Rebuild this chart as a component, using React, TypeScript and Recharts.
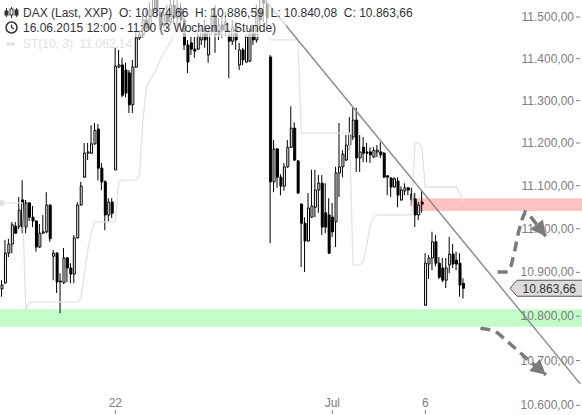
import {
  ComposedChart,
  Bar,
  Line,
  XAxis,
  YAxis,
  Cell,
  ReferenceArea,
  ReferenceLine,
} from "recharts";

// hourly DAX bars, 16.06.2015 12:00 .. 07.07.2015 11:00
const openP = [
  10862, 10876, 10944, 10965, 11006, 11006, 11067, 11004, 11060, 11027,
  11018, 10958, 10990, 10993, 11055, 10937, 10944, 10880, 10876, 10933,
  10910, 10896, 10979, 11055, 11120, 11176, 11176, 11198, 11233, 11141,
  11109, 11032, 11062, 11137, 11380, 11385, 11373, 11366, 11290, 11380,
  11450, 11457, 11493, 11474, 11517, 11553, 11512, 11481, 11505, 11488,
  11529, 11498, 11522, 11493, 11433, 11438, 11423, 11423, 11445, 11469,
  11409, 11464, 11505, 11457, 11481, 11469, 11454, 11442, 11474, 11385,
  11421, 11392, 11394, 11462, 11445, 11517, 11561, 11534, 11404, 11109,
  11186, 11120, 11099, 11144, 11190, 11235, 11158, 11057, 11013, 10972,
  11027, 11050, 11090, 11106, 11037, 11032, 11027, 11016, 11130, 11144,
  11160, 11195, 11214, 11254, 11165, 11190, 11179, 11179, 11167, 11179,
  11179, 11176, 11123, 11118, 11097, 11111, 11067, 11088, 11095, 11081,
  11069, 11032, 11062, 10825, 10919, 10933, 10970, 10921, 10910, 10882,
  10917, 10942, 10928, 10921, 10874.66,
];
const highP = [
  10882, 10974, 10977, 11016, 11016, 11074, 11113, 11067, 11062, 11053,
  11020, 11011, 11032, 11085, 11057, 10951, 10946, 10898, 10956, 10935,
  10921, 10986, 11062, 11109, 11200, 11200, 11242, 11247, 11245, 11153,
  11113, 11071, 11071, 11426, 11421, 11402, 11390, 11373, 11397, 11464,
  11469, 11512, 11517, 11536, 11578, 11566, 11522, 11522, 11529, 11553,
  11541, 11541, 11536, 11505, 11445, 11452, 11452, 11462, 11481, 11493,
  11474, 11522, 11529, 11498, 11505, 11512, 11469, 11493, 11488, 11438,
  11426, 11457, 11474, 11481, 11529, 11541, 11578, 11546, 11409, 11207,
  11188, 11127, 11153, 11207, 11287, 11249, 11160, 11059, 11027, 11083,
  11137, 11137, 11125, 11125, 11106, 11071, 11060, 11144, 11247, 11183,
  11219, 11261, 11283, 11283, 11219, 11214, 11200, 11190, 11190, 11195,
  11202, 11179, 11125, 11120, 11120, 11120, 11099, 11106, 11097, 11095,
  11083, 11062, 11090, 10944, 10940, 10993, 10986, 10935, 10933, 10933,
  10981, 10965, 10947, 10944, 10886.59,
];
const lowP = [
  10844, 10873, 10935, 10944, 10988, 10999, 10990, 10990, 11018, 11004,
  10947, 10956, 10988, 10990, 10970, 10882, 10853, 10807, 10874, 10878,
  10875, 10875, 10978, 11054, 11118, 11160, 11175, 11196, 11113, 11090,
  10997, 11016, 11025, 11136, 11378, 11308, 11308, 11271, 11271, 11378,
  11445, 11450, 11464, 11469, 11507, 11498, 11469, 11474, 11469, 11481,
  11483, 11474, 11469, 11421, 11366, 11409, 11402, 11421, 11433, 11426,
  11390, 11457, 11414, 11445, 11450, 11454, 11354, 11433, 11421, 11373,
  11385, 11390, 11392, 11433, 11438, 11469, 11488, 11481, 10967, 11085,
  11095, 11078, 11088, 11142, 11188, 11158, 11081, 10912, 10901, 10970,
  11025, 11027, 11037, 10986, 10990, 10942, 10981, 10958, 11074, 11120,
  11158, 11183, 11207, 11132, 11132, 11155, 11155, 11153, 11165, 11167,
  11165, 11118, 11078, 11074, 11095, 11050, 11065, 11078, 11078, 11053,
  11004, 11020, 11037, 10823, 10885, 10905, 10914, 10885, 10878, 10864,
  10898, 10910, 10905, 10844, 10840.08,
];
const closeP = [
  10871, 10944, 10965, 11009, 10990, 11043, 11004, 11060, 11027, 11018,
  10958, 10990, 10993, 11055, 10977, 10944, 10878, 10878, 10933, 10910,
  10896, 10979, 11055, 11099, 11176, 11179, 11198, 11230, 11141, 11109,
  11032, 11062, 11036, 11382, 11385, 11313, 11318, 11290, 11380, 11450,
  11457, 11493, 11474, 11517, 11553, 11512, 11481, 11505, 11488, 11529,
  11498, 11522, 11493, 11433, 11392, 11423, 11418, 11454, 11469, 11445,
  11464, 11505, 11457, 11481, 11469, 11488, 11442, 11474, 11445, 11421,
  11397, 11452, 11462, 11445, 11517, 11493, 11534, 11498, 11109, 11186,
  11120, 11099, 11144, 11190, 11235, 11160, 11083, 11013, 10972, 11048,
  11053, 11090, 11106, 11004, 11004, 10944, 10993, 11130, 11144, 11174,
  11195, 11219, 11254, 11165, 11179, 11176, 11176, 11172, 11183, 11183,
  11172, 11120, 11120, 11097, 11116, 11078, 11090, 11095, 11090, 11067,
  11032, 11055, 11057, 10921, 10933, 10970, 10921, 10889, 10882, 10910,
  10942, 10919, 10919, 10871, 10863.66,
];

// SuperTrend ST(10, 3)
const superTrend = [
  11060, 11060, 11060, 11060, 11060, 11060, 11060, 10814, 10832, 10832,
  10832, 10832, 10832, 10832, 10832, 10832, 10832, 10832, 10832, 10832,
  10832, 10832, 10832, 10841, 10894, 10951, 10993, 11016, 11016, 11016,
  11016, 11016, 11016, 11016, 11109, 11113, 11113, 11113, 11113, 11113,
  11125, 11254, 11330, 11349, 11361, 11378, 11397, 11414, 11426, 11440,
  11462, 11462, 11462, 11462, 11462, 11462, 11462, 11462, 11462, 11462,
  11462, 11462, 11462, 11462, 11462, 11462, 11462, 11462, 11462, 11462,
  11462, 11462, 11462, 11462, 11462, 11462, 11462, 11462, 11445, 11445,
  11445, 11445, 11445, 11445, 11445, 11445, 11445, 11223, 11223, 11223,
  11223, 11223, 11223, 11223, 11223, 11223, 11223, 11223, 11223, 11223,
  11223, 11223, 10917, 10917, 10917, 10924, 10963, 11009, 11027, 11032,
  11032, 11032, 11032, 11032, 11032, 11032, 11032, 11032, 11032, 11032,
  11200, 11200, 11190, 11097, 11097, 11097, 11097, 11097, 11097, 11097,
  11097, 11097, 11097, 11083, 11062.14,
];

// drawn annotations
const trendIdx = [76, 168];
const trendVal = [11545.9, 10647.7];
const upArrowIdx = [144, 147, 148, 149, 150, 151, 152, 153, 158];
const upArrowVal = [10901, 10901, 10917, 10951, 10990, 11020, 11039, 11034, 10983];
const downArrowIdx = [139, 142, 144, 146, 148, 153, 158];
const downArrowVal = [10773, 10769, 10762, 10749, 10735, 10701, 10668];
const resistZone = [11041, 11071];
const supportZone = [10776, 10816];
const resistStart = 120;
const lastPrice = 10863.66;

const yTicks = [10600, 10700, 10800, 10900, 11000, 11100, 11200, 11300, 11400, 11500];
const xTickIdx = [33, 96, 123];
const xTickLabels = ["22", "Jul", "6"];

const SLOTS = 169;
const FONT = '"Liberation Sans", Arial, sans-serif';

const pick = (idx: number[], vals: number[], i: number) => {
  const k = idx.indexOf(i);
  return k < 0 ? null : vals[k];
};

const rows = Array.from({ length: SLOTS }, (_, i) => ({
  i,
  o: openP[i] ?? null,
  h: highP[i] ?? null,
  l: lowP[i] ?? null,
  c: closeP[i] ?? null,
  st: superTrend[i] ?? null,
  trend: pick(trendIdx, trendVal, i),
  up: pick(upArrowIdx, upArrowVal, i),
  down: pick(downArrowIdx, downArrowVal, i),
}));

const de = (v: number, dec = 2) => {
  const [a, b] = v.toFixed(dec).split(".");
  return a.replace(/\B(?=(\d{3})+(?!\d))/g, ".") + "," + b;
};

const YTick = (props: any) => {
  const { x, y, payload } = props;
  return (
    <g>
      <text x={x - 8} y={y + 4} textAnchor="end" fill="#7d7d7d" fontSize={12} fontFamily={FONT}>
        {de(payload.value)}
      </text>
      <line x1={x - 6} x2={x - 2} y1={y} y2={y} stroke="#7d7d7d" />
    </g>
  );
};

// bottom edge of the plot, where the tick marks hang
const XTick = (props: any) => {
  const { x, payload, viewBox } = props;
  const k = xTickIdx.indexOf(payload.value);
  if (k < 0) return <g />;
  const base = viewBox?.y ?? 410;
  return (
    <g>
      <text x={x} y={base - 3} textAnchor="middle" fill="#7d7d7d" fontSize={12} fontFamily={FONT}>
        {xTickLabels[k]}
      </text>
      <line x1={x} x2={x} y1={base} y2={base + 4} stroke="#7d7d7d" />
    </g>
  );
};

const arrowHead = (tip: number, angle: number) => (p: any) => {
  const { cx, cy, payload, index } = p;
  if (payload?.i !== tip || cx == null || cy == null) return <g key={"h" + index} />;
  const a = (angle * Math.PI) / 180;
  const len = 15;
  const half = 8;
  const bx = cx - len * Math.cos(a);
  const by = cy - len * Math.sin(a);
  const nx = -Math.sin(a) * half;
  const ny = Math.cos(a) * half;
  return (
    <polygon
      key={"h" + index}
      points={`${cx},${cy} ${bx + nx},${by + ny} ${bx - nx},${by - ny}`}
      fill="#7b7b7b"
    />
  );
};

const PriceTag = (props: any) => {
  const { viewBox } = props;
  const right = viewBox.x + viewBox.width;
  const y = viewBox.y;
  return (
    <g>
      <polygon
        points={`${right - 72},${y} ${right - 65},${y - 8} ${right + 1},${y - 8} ${right + 1},${y + 8} ${right - 65},${y + 8}`}
        fill="#dcdcdc"
        stroke="#555"
      />
      <text x={right - 6} y={y + 4.5} textAnchor="end" fill="#333" fontSize={12} fontFamily={FONT}>
        {de(lastPrice)}
      </text>
    </g>
  );
};

const Header = () => (
  <svg width={582} height={52} style={{ position: "absolute", left: 0, top: 0, pointerEvents: "none" }}>
    <rect x={0} y={0} width={416} height={21} fill="#fff" fillOpacity={0.65} />
    <rect x={0} y={21} width={286} height={16} fill="#fff" fillOpacity={0.65} />
    <g stroke="#333" strokeWidth={1}>
      <line x1={6.5} x2={6.5} y1={8} y2={17} />
      <rect x={5} y={11} width={3} height={4} fill="#333" />
      <line x1={11.5} x2={11.5} y1={7} y2={18} />
      <rect x={10} y={9} width={3} height={6} fill="#fff" />
      <line x1={16.5} x2={16.5} y1={8} y2={17} />
      <rect x={15} y={10} width={3} height={5} fill="#333" />
    </g>
    <circle cx={11.5} cy={27.5} r={5.5} fill="none" stroke="#333" strokeWidth={1.5} />
    <polyline points="11.5,24.5 11.5,27.5 14,29" fill="none" stroke="#333" strokeWidth={1.3} />
    <text x={23} y={17} fill="#333" fontSize={12} fontFamily={FONT} style={{ whiteSpace: "pre" }}>
      {"DAX (Last, XXP)  O: 10.874,66  H: 10.886,59  L: 10.840,08  C: 10.863,66"}
    </text>
    <text x={23} y={32} fill="#333" fontSize={12} fontFamily={FONT} style={{ whiteSpace: "pre" }}>
      {"16.06.2015 12:00 - 11:00 (3 Wochen, 1 Stunde)"}
    </text>
    <line x1={6} x2={15} y1={44} y2={44} stroke="#e4e4e4" strokeWidth={3} />
    <text x={23} y={48} fill="#e2e2e2" fontSize={12} fontFamily={FONT} style={{ whiteSpace: "pre" }}>
      {"ST(10, 3)  " + de(superTrend[superTrend.length - 1])}
    </text>
  </svg>
);

export default function App() {
  return (
    <div style={{ position: "absolute", left: 0, top: 0, width: 582, height: 415, background: "#fff" }}>
      <ComposedChart width={582} height={415} data={rows} margin={{ top: 0, right: 0, bottom: 0, left: 0 }}>
        <XAxis
          xAxisId="main"
          dataKey="i"
          type="category"
          height={5}
          interval={0}
          tickLine={false}
          axisLine={false}
          tick={<XTick />}
        />
        <XAxis xAxisId="body" dataKey="i" type="category" hide />
        <YAxis
          type="number"
          scale="log"
          domain={[10589.5, 11541.3]}
          allowDataOverflow
          orientation="right"
          mirror
          ticks={yTicks}
          tickSize={0}
          tickMargin={0}
          axisLine={false}
          tick={<YTick />}
        />
        <ReferenceArea xAxisId="main" y1={supportZone[0]} y2={supportZone[1]} fill="#c2fcc8" fillOpacity={1} stroke="none" />
        <ReferenceArea
          xAxisId="main"
          x1={resistStart}
          x2={SLOTS - 1}
          y1={resistZone[0]}
          y2={resistZone[1]}
          fill="#ffc2c2"
          fillOpacity={1}
          stroke="none"
        />
        <Line
          xAxisId="main"
          dataKey="st"
          stroke="#e2e2e2"
          strokeWidth={1.3}
          dot={false}
          isAnimationActive={false}
        />
        <Bar
          xAxisId="main"
          dataKey={(d: any) => (d.h == null ? null : [d.l, d.h])}
          barSize={1}
          fill="#000"
          isAnimationActive={false}
        />
        <Bar
          xAxisId="body"
          dataKey={(d: any) => (d.o == null ? null : [Math.min(d.o, d.c), Math.max(d.o, d.c)])}
          barSize={2}
          stroke="#000"
          strokeWidth={1}
          isAnimationActive={false}
        >
          {rows.map((d) => (
            <Cell key={d.i} fill={d.c != null && d.c >= d.o ? "#fff" : "#000"} />
          ))}
        </Bar>
        <Line
          xAxisId="main"
          dataKey="trend"
          stroke="#8c8c8c"
          strokeWidth={1.5}
          dot={false}
          connectNulls
          isAnimationActive={false}
        />
        <Line
          xAxisId="main"
          dataKey="up"
          stroke="#7b7b7b"
          strokeWidth={3.5}
          strokeDasharray="10 6"
          connectNulls
          dot={arrowHead(158, 52)}
          activeDot={false}
          isAnimationActive={false}
        />
        <Line
          xAxisId="main"
          dataKey="down"
          stroke="#7b7b7b"
          strokeWidth={3.5}
          strokeDasharray="10 6"
          connectNulls
          dot={arrowHead(158, 41)}
          activeDot={false}
          isAnimationActive={false}
        />
        <ReferenceLine xAxisId="main" y={lastPrice} stroke="none" label={<PriceTag />} />
      </ComposedChart>
      <Header />
    </div>
  );
}
